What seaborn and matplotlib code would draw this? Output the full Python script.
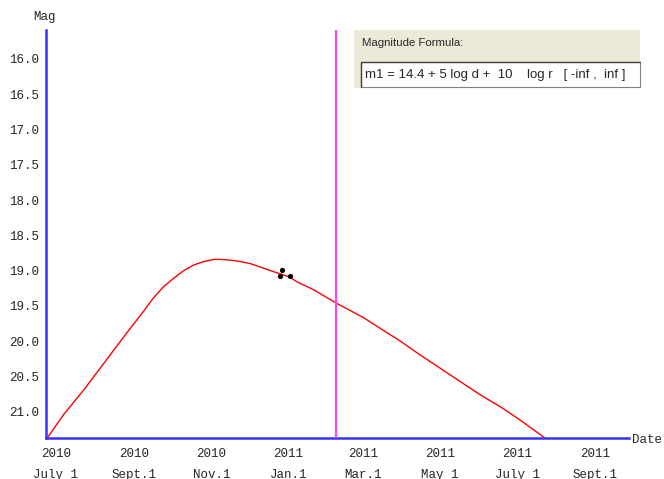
import matplotlib
matplotlib.use('Agg')
import matplotlib.pyplot as plt
from matplotlib.patches import Rectangle
import seaborn as sns
import pandas as pd

# --- DATA ---
curve_dates = ["2010-06-23", "2010-07-07", "2010-07-23", "2010-08-08", "2010-08-24",
               "2010-09-09", "2010-09-16", "2010-09-24", "2010-10-02", "2010-10-10",
               "2010-10-18", "2010-10-26", "2010-11-03", "2010-11-08", "2010-11-16",
               "2010-11-24", "2010-12-02", "2010-12-10", "2010-12-18", "2011-01-02",
               "2011-01-08", "2011-01-21", "2011-02-08", "2011-03-01", "2011-03-22",
               "2011-03-30", "2011-04-15", "2011-05-01", "2011-05-17", "2011-06-02",
               "2011-06-18", "2011-07-03", "2011-07-23"]
curve_mags = [21.40, 21.04, 20.69, 20.31, 19.93,
              19.56, 19.39, 19.23, 19.11, 19.00,
              18.92, 18.87, 18.84, 18.84, 18.85,
              18.87, 18.90, 18.95, 19.00, 19.09,
              19.16, 19.27, 19.46, 19.66, 19.90,
              19.99, 20.19, 20.38, 20.57, 20.76,
              20.93, 21.11, 21.37]

obs_dates = ["2010-12-27", "2010-12-25", "2011-01-02"]
obs_mags = [18.99, 19.08, 19.08]

marker_date = "2011-02-08"

tick_dates = ["2010-07-01", "2010-09-01", "2010-11-01", "2011-01-01",
              "2011-03-01", "2011-05-01", "2011-07-01", "2011-09-01"]
tick_labels = ["2010\nJuly 1", "2010\nSept.1", "2010\nNov.1", "2011\nJan.1",
               "2011\nMar.1", "2011\nMay 1", "2011\nJuly 1", "2011\nSept.1"]
mag_ticks = [16.0, 16.5, 17.0, 17.5, 18.0, 18.5, 19.0, 19.5, 20.0, 20.5, 21.0]

formula_title = "Magnitude Formula:"
formula_text = "m1 = 14.4 + 5 log d +  10    log r   [ -inf ,  inf ]"

AXIS_BLUE = "#3434ff"

curve = pd.DataFrame({"date": pd.to_datetime(curve_dates), "mag": curve_mags})
obs = pd.DataFrame({"date": pd.to_datetime(obs_dates), "mag": obs_mags})

sns.set_style("white")
plt.rcParams['font.family'] = ['Liberation Mono', 'DejaVu Sans Mono']

fig = plt.figure(figsize=(6.64, 4.79), dpi=100)
ax = fig.add_axes([45.7 / 664, 1 - 438 / 479, (629 - 45.7) / 664, (438 - 30) / 479])

sns.lineplot(data=curve, x="date", y="mag", color="red", linewidth=1.0, ax=ax)
sns.scatterplot(data=obs, x="date", y="mag", color="black", s=14, edgecolor="black",
                linewidth=0, ax=ax, zorder=5)
ax.axvline(pd.Timestamp(marker_date), color="#ff44ff", linewidth=1.6, zorder=3)

ax.set_xlim(pd.Timestamp("2010-06-22 22:00"), pd.Timestamp("2011-09-27 14:00"))
ax.set_ylim(21.37, 15.59)

ax.set_xticks(pd.to_datetime(tick_dates))
ax.set_xticklabels(tick_labels, fontsize=9, linespacing=1.9)
ax.set_yticks(mag_ticks)
ax.set_yticklabels([f"{v:.1f}" for v in mag_ticks], fontsize=9)
ax.tick_params(axis="y", direction="in", length=10, width=1.4, color=AXIS_BLUE, pad=4.5)
ax.tick_params(axis="x", direction="in", length=8, width=1.4, color=AXIS_BLUE, pad=7.5)

ax.set_xlabel("")
ax.set_ylabel("")
for side in ["top", "right"]:
    ax.spines[side].set_visible(False)
for side in ["left", "bottom"]:
    ax.spines[side].set_color(AXIS_BLUE)
    ax.spines[side].set_linewidth(1.8)

fig.text(45 / 664, 1 - 17 / 479, "Mag", fontsize=9, ha="center", va="center")
fig.text(632 / 664, 1 - 440 / 479, "Date", fontsize=9, ha="left", va="center")

# formula panel
fig.patches.append(Rectangle((354 / 664, 1 - 88 / 479), 286 / 664, 58 / 479,
                             transform=fig.transFigure, facecolor="#ece9d8",
                             edgecolor="none", zorder=10))
fig.patches.append(Rectangle((361 / 664, 1 - 87 / 479), 279 / 664, 25 / 479,
                             transform=fig.transFigure, facecolor="white",
                             edgecolor="#808080", linewidth=0.8, zorder=11))
fig.lines.append(plt.Line2D([361 / 664, 361 / 664, 640 / 664],
                            [1 - 87 / 479, 1 - 62 / 479, 1 - 62 / 479],
                            transform=fig.transFigure, color="#404040",
                            linewidth=1.0, zorder=12))
fig.text(362 / 664, 1 - 43 / 479, formula_title, fontsize=8.2, ha="left", va="center",
         family="Liberation Sans", zorder=13)
fig.text(365 / 664, 1 - 75 / 479, formula_text, fontsize=9.5, ha="left", va="center",
         family="Liberation Sans", zorder=13)

fig.savefig("out.png", dpi=100)
plt.close(fig)
